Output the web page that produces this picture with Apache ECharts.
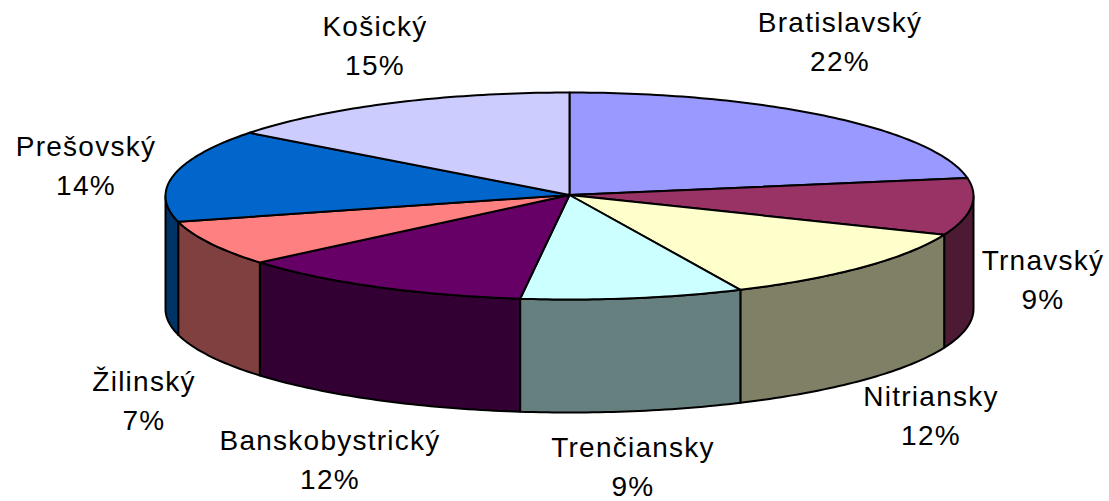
<!DOCTYPE html>
<html><head><meta charset="utf-8">
<style>html,body{margin:0;padding:0;background:#fff}#c{width:1109px;height:501px}#c text{letter-spacing:1.25px}</style>
<script src="https://cdn.jsdelivr.net/npm/echarts@6/dist/echarts.min.js"></script>
</head><body><div id="c"></div>
<script>
const categories = ['Bratislavský','Trnavský','Nitriansky','Trenčiansky','Banskobystrický','Žilinský','Prešovský','Košický'];
const shares = [22.2,8.9,11.95,8.9,11.95,7.1,14.45,14.55];
const percentLabels = ['22%','9%','12%','9%','12%','7%','14%','15%'];
const topColors = ['#9999FF','#993366','#FFFFCC','#CCFFFF','#660066','#FF8080','#0066CC','#CCCCFF'];
const sideColors = ['#4D4D80','#4D1A33','#808066','#668080','#330033','#804040','#003366','#666680'];
const labelSpots = [[840,42],[1043,280],[931,416],[633,467],[330,460],[144,401],[86,166],[375,46]];

const cx=569.5, apexY=195, cy=196, rx=404, ry=103.5, depth=113, total=shares.reduce((a,b)=>a+b,0);
function pt(a,dy){return [cx+rx*Math.sin(a),cy-ry*Math.cos(a)+(dy||0)];}
function arc(a0,a1,dy){const n=Math.max(2,Math.ceil(Math.abs(a1-a0)*60)),o=[];
  for(let i=0;i<=n;i++)o.push(pt(a0+(a1-a0)*i/n,dy));return o;}
const cum=[];shares.reduce((s,v,i)=>{cum[i]=[s/total*2*Math.PI,(s+v)/total*2*Math.PI];return s+v;},0);
const line={stroke:'#000',lineWidth:2,lineJoin:'round'};

function renderItem(params,api){
  const i=params.dataIndex,[a0,a1]=cum[api.value(0)],kids=[];
  const s=Math.max(a0,Math.PI/2),e=Math.min(a1,1.5*Math.PI);
  if(e>s){
    const top=arc(s,e,0),bot=arc(e,s,depth);
    kids.push({type:'polygon',shape:{points:top.concat(bot)},style:Object.assign({fill:sideColors[i]},line)});
  }
  const poly=[[cx,apexY]].concat(arc(a0,a1,0));
  kids.push({type:'polygon',shape:{points:poly},style:Object.assign({fill:topColors[i]},line)});
  return {type:'group',children:kids};
}
function textEl(t,x,y){return {type:'text',x,y,silent:true,
  style:{text:t,fill:'#000',font:'28px "Liberation Sans"',align:'center',verticalAlign:'middle',lineHeight:28}};}
const chart=echarts.init(document.getElementById('c'),null,{renderer:'svg'});
chart.setOption({
  animation:false,
  series:[{
    type:'custom',coordinateSystem:'none',renderItem,
    data:shares.map((v,i)=>[i,v]),silent:true
  }],
  graphic:categories.flatMap((c,i)=>[
    textEl(c,labelSpots[i][0],labelSpots[i][1]-19.5),
    textEl(percentLabels[i],labelSpots[i][0],labelSpots[i][1]+19.5)
  ])
});
</script></body></html>
